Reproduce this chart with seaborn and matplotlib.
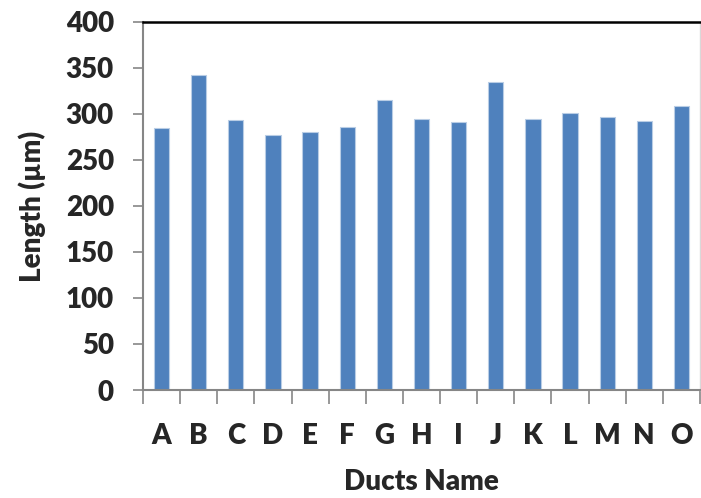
import pandas as pd
import matplotlib
matplotlib.use("Agg")
from matplotlib import pyplot as plt
import seaborn as sns

ducts = ["A", "B", "C", "D", "E", "F", "G", "H", "I", "J", "K", "L", "M", "N", "O"]
lengths = [285, 342, 293, 277, 280, 286, 315, 295, 291, 335, 295, 301, 297, 292, 309]

df = pd.DataFrame({"Ducts Name": ducts, "Length": lengths})

sns.set_style("white")
plt.rcParams["font.family"] = ["Lato", "DejaVu Sans"]
W = "heavy"

fig = plt.figure(figsize=(7.01, 4.98), dpi=100)
ax = fig.add_axes([143 / 701, 108 / 498, 557 / 701, 368 / 498])

sns.barplot(data=df, x="Ducts Name", y="Length", color="#4F81BD", width=0.41,
            edgecolor="#B9CDE5", linewidth=0.8, saturation=1, ax=ax)

ax.set_ylim(0, 400)
ax.set_xlim(-0.5, len(ducts) - 0.5)
ax.set_yticks(range(0, 401, 50))
ax.set_yticklabels([str(v) for v in range(0, 401, 50)], fontsize=20, fontweight=W)
ax.tick_params(axis="y", length=7, width=1.2, color="#868686", pad=14, left=True)
ax.set_xticks(range(len(ducts)))
ax.set_xticklabels(ducts, fontsize=20, fontweight=W)
ax.tick_params(axis="x", length=0, pad=24)
# category boundary ticks on the x axis
ax.set_xticks([i - 0.5 for i in range(len(ducts) + 1)], minor=True)
ax.tick_params(axis="x", which="minor", length=10, width=1.2, color="#868686", bottom=True)

ax.set_xlabel("Ducts Name", fontsize=20, fontweight=W, labelpad=14)
ax.set_ylabel("Length (µm)", fontsize=20, fontweight=W, labelpad=14)

ax.spines["left"].set_color("#868686")
ax.spines["left"].set_linewidth(1.5)
ax.spines["bottom"].set_color("#868686")
ax.spines["bottom"].set_linewidth(1.5)
ax.spines["top"].set_color("black")
ax.spines["top"].set_linewidth(1.8)
ax.spines["right"].set_color("#D9D9D9")
ax.spines["right"].set_linewidth(1)

fig.savefig("out.png", dpi=100)
